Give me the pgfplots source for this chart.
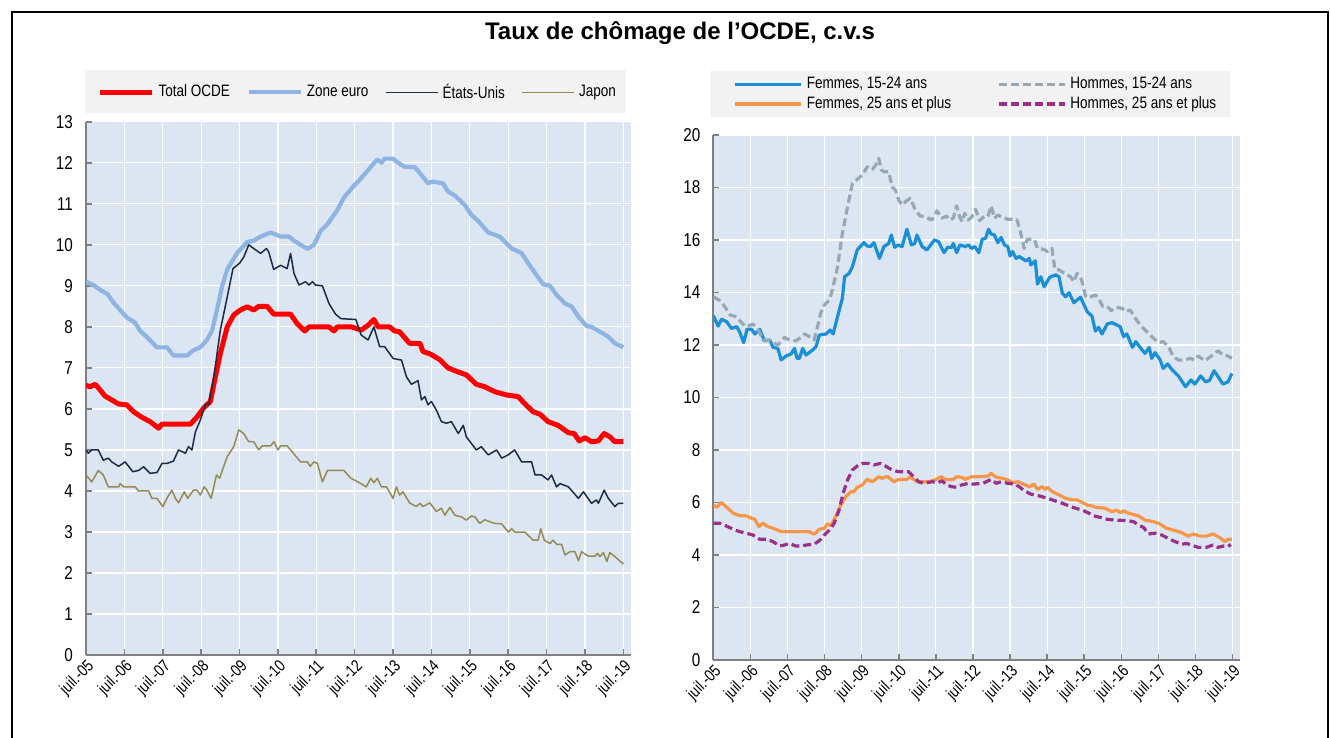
\documentclass[border=0pt]{standalone}
\usepackage{fontspec}
\setmainfont{Liberation Sans}
\newfontfamily\narrow[FakeStretch=0.82]{Liberation Sans}
\usepackage{pgfplots}
\pgfplotsset{compat=1.18}
\definecolor{bgblue}{HTML}{DCE6F2}
\definecolor{leggray}{HTML}{F2F2F2}
\definecolor{totred}{HTML}{FF0000}
\definecolor{zoneeuro}{HTML}{8DB4E2}
\definecolor{usnavy}{HTML}{1B2A47}
\definecolor{japon}{HTML}{948A54}
\definecolor{fjeune}{HTML}{1A8FD6}
\definecolor{hjeune}{HTML}{97A8B3}
\definecolor{fadulte}{HTML}{F79646}
\definecolor{hadulte}{HTML}{9A3089}
\definecolor{axgray}{HTML}{808080}
\pgfplotsset{
  commonax/.style={
    scale only axis,
    axis background/.style={fill=bgblue},
    grid=major, major grid style={white, line width=0.6pt},
    axis x line*=bottom, axis y line*=left,
    axis line style={axgray, line width=1pt, -},
    tick align=inside, major tick length=3pt,
    tick style={axgray, line width=0.8pt},
    xmin=2005.5, xmax=2019.7,
    xtick={2005.5,2006.5,2007.5,2008.5,2009.5,2010.5,2011.5,2012.5,2013.5,2014.5,2015.5,2016.5,2017.5,2018.5,2019.5},
    xticklabels={juil.-05,juil.-06,juil.-07,juil.-08,juil.-09,juil.-10,juil.-11,juil.-12,juil.-13,juil.-14,juil.-15,juil.-16,juil.-17,juil.-18,juil.-19},
    xticklabel style={rotate=45, anchor=north east, inner sep=1pt, font=\narrow\fontsize{8.3}{9}\selectfont},
    yticklabel style={font=\narrow\fontsize{9.3}{10}\selectfont, xshift=-3pt},
    /pgf/number format/assume math mode=true,
    ymin=0,
    line join=round,
    legend cell align=left,
  }
}
\begin{document}
\begin{tikzpicture}
\fill[white] (0pt,0pt) rectangle (665pt,-369pt);
\draw[black, line width=1pt] (6pt,-372pt) -- (6pt,-6pt) -- (664pt,-6pt) -- (664pt,-372pt);
\node[font=\bfseries\fontsize{12}{13}\selectfont] at (340pt,-16.5pt) {Taux de chômage de l’OCDE, c.v.s};
\fill[leggray] (42.7pt,-35pt) rectangle (313pt,-56.35pt);
\fill[leggray] (354.85pt,-35.35pt) rectangle (615pt,-58.35pt);

\begin{axis}[commonax,
  at={(43pt,-327.55pt)}, anchor=south west,
  width=272.5pt, height=266.7pt,
  ymax=13, ytick={0,1,2,3,4,5,6,7,8,9,10,11,12,13},
  legend style={at={(0.5004,1.055)}, anchor=center, draw=none, fill=none,
    font=\narrow\fontsize{8.25}{9}\selectfont,
    /tikz/every even column/.append style={column sep=6.3pt}},
  legend columns=4,
  legend image code/.code={\draw[#1] (0pt,0pt) -- (26pt,0pt);},
]
\addplot[totred, line width=2.5pt] coordinates {
(2005.5,6.58)(2005.6,6.54)(2005.74,6.6)(2005.87,6.46)(2006.0,6.31)(2006.17,6.22)(2006.35,6.12)(2006.56,6.1)(2006.74,5.93)(2006.95,5.8)(2007.17,5.69)(2007.39,5.53)(2007.48,5.63)(2008.22,5.63)(2008.39,5.8)(2008.57,6.03)(2008.74,6.18)(2008.87,6.78)(2009.0,7.35)(2009.18,8.0)(2009.35,8.29)(2009.52,8.41)(2009.7,8.49)(2009.87,8.41)(2010.0,8.5)(2010.22,8.5)(2010.39,8.31)(2010.83,8.31)(2011.0,8.08)(2011.2,7.9)(2011.31,8.0)(2011.83,8.0)(2011.96,7.9)(2012.05,8.0)(2012.41,8.0)(2012.67,7.92)(2012.85,8.04)(2013.0,8.18)(2013.11,8.0)(2013.41,8.0)(2013.54,7.9)(2013.67,7.88)(2013.93,7.6)(2014.2,7.6)(2014.28,7.4)(2014.46,7.34)(2014.54,7.3)(2014.72,7.2)(2014.93,7.0)(2015.2,6.9)(2015.41,6.83)(2015.67,6.6)(2015.89,6.54)(2016.15,6.42)(2016.46,6.34)(2016.76,6.3)(2016.93,6.13)(2017.15,5.93)(2017.33,5.87)(2017.54,5.69)(2017.8,5.6)(2018.07,5.42)(2018.22,5.4)(2018.35,5.22)(2018.5,5.3)(2018.67,5.2)(2018.85,5.22)(2019.0,5.4)(2019.15,5.32)(2019.28,5.2)(2019.5,5.2)
};
\addlegendentry{Total OCDE}
\addplot[zoneeuro, line width=2.1pt] coordinates {
(2005.5,9.1)(2005.69,9.02)(2005.87,8.9)(2006.06,8.8)(2006.21,8.6)(2006.56,8.23)(2006.78,8.1)(2006.91,7.9)(2007.09,7.75)(2007.35,7.5)(2007.61,7.5)(2007.78,7.3)(2008.13,7.3)(2008.3,7.43)(2008.48,7.5)(2008.65,7.68)(2008.78,7.9)(2008.91,8.4)(2009.05,9.0)(2009.18,9.4)(2009.44,9.8)(2009.7,10.07)(2009.87,10.1)(2010.05,10.2)(2010.31,10.3)(2010.57,10.2)(2010.79,10.2)(2010.92,10.1)(2011.09,10.0)(2011.27,9.9)(2011.44,10.0)(2011.62,10.35)(2011.79,10.5)(2012.05,10.85)(2012.22,11.15)(2012.49,11.45)(2012.59,11.54)(2012.85,11.82)(2013.09,12.08)(2013.2,12.0)(2013.28,12.1)(2013.5,12.1)(2013.63,12.0)(2013.8,11.9)(2014.07,11.89)(2014.24,11.7)(2014.41,11.5)(2014.54,11.54)(2014.8,11.5)(2014.93,11.3)(2015.11,11.2)(2015.37,10.97)(2015.54,10.73)(2015.72,10.58)(2015.98,10.3)(2016.28,10.2)(2016.59,9.91)(2016.85,9.8)(2017.02,9.55)(2017.24,9.26)(2017.41,9.04)(2017.59,9.0)(2017.76,8.78)(2017.98,8.57)(2018.15,8.5)(2018.33,8.25)(2018.54,8.02)(2018.67,8.0)(2018.89,7.88)(2019.11,7.76)(2019.28,7.6)(2019.5,7.5)
};
\addlegendentry{Zone euro}
\addplot[usnavy, line width=0.75pt] coordinates {
(2005.5,5.0)(2005.56,4.92)(2005.65,5.0)(2005.82,5.0)(2005.95,4.75)(2006.08,4.8)(2006.17,4.71)(2006.35,4.6)(2006.52,4.71)(2006.72,4.47)(2006.87,4.5)(2007.0,4.59)(2007.17,4.43)(2007.35,4.45)(2007.48,4.67)(2007.61,4.67)(2007.78,4.73)(2007.91,5.0)(2008.09,4.92)(2008.17,5.08)(2008.26,5.0)(2008.35,5.44)(2008.48,5.73)(2008.61,6.11)(2008.7,6.12)(2008.83,6.78)(2009.0,7.92)(2009.18,8.73)(2009.33,9.42)(2009.5,9.55)(2009.61,9.7)(2009.74,10.0)(2009.87,9.91)(2010.05,9.79)(2010.2,9.91)(2010.26,9.83)(2010.39,9.4)(2010.57,9.5)(2010.74,9.42)(2010.83,9.79)(2010.92,9.3)(2011.05,9.02)(2011.22,9.1)(2011.31,9.02)(2011.4,9.1)(2011.48,9.02)(2011.66,9.0)(2011.83,8.57)(2012.0,8.31)(2012.14,8.2)(2012.53,8.18)(2012.67,7.8)(2012.85,7.68)(2013.0,8.0)(2013.15,7.52)(2013.28,7.52)(2013.5,7.23)(2013.72,7.19)(2013.85,6.78)(2013.98,6.6)(2014.15,6.69)(2014.24,6.22)(2014.33,6.3)(2014.41,6.1)(2014.5,6.18)(2014.63,5.97)(2014.76,5.69)(2014.89,5.65)(2015.02,5.69)(2015.2,5.4)(2015.33,5.6)(2015.41,5.32)(2015.67,5.0)(2015.8,5.08)(2015.98,4.88)(2016.2,5.0)(2016.33,4.8)(2016.5,4.88)(2016.67,5.0)(2016.85,4.71)(2017.11,4.71)(2017.2,4.39)(2017.37,4.39)(2017.54,4.27)(2017.63,4.39)(2017.76,4.1)(2017.85,4.18)(2018.07,4.1)(2018.33,3.82)(2018.46,3.98)(2018.67,3.7)(2018.8,3.78)(2018.85,3.7)(2019.0,4.02)(2019.11,3.82)(2019.28,3.62)(2019.37,3.7)(2019.5,3.7)
};
\addlegendentry{États-Unis}
\addplot[japon, line width=0.75pt] coordinates {
(2005.5,4.39)(2005.65,4.22)(2005.82,4.5)(2005.95,4.39)(2006.08,4.1)(2006.35,4.1)(2006.39,4.18)(2006.48,4.1)(2006.78,4.1)(2006.87,4.0)(2007.13,4.0)(2007.22,3.82)(2007.35,3.82)(2007.5,3.62)(2007.63,3.86)(2007.74,4.02)(2007.83,3.82)(2007.91,3.71)(2008.06,3.98)(2008.15,3.82)(2008.3,4.02)(2008.39,4.02)(2008.48,3.9)(2008.58,4.1)(2008.65,4.02)(2008.76,3.82)(2008.9,4.39)(2008.98,4.31)(2009.18,4.84)(2009.35,5.08)(2009.48,5.49)(2009.61,5.4)(2009.74,5.2)(2009.87,5.2)(2010.0,5.0)(2010.09,5.1)(2010.31,5.1)(2010.4,5.2)(2010.5,5.0)(2010.57,5.1)(2010.74,5.1)(2011.09,4.71)(2011.27,4.71)(2011.34,4.6)(2011.44,4.71)(2011.53,4.67)(2011.66,4.22)(2011.79,4.5)(2012.22,4.5)(2012.4,4.31)(2012.63,4.2)(2012.8,4.1)(2012.92,4.31)(2013.0,4.2)(2013.09,4.31)(2013.2,4.1)(2013.33,4.1)(2013.5,3.82)(2013.59,4.1)(2013.67,3.9)(2013.76,3.98)(2013.93,3.71)(2014.11,3.62)(2014.2,3.7)(2014.28,3.62)(2014.46,3.71)(2014.63,3.5)(2014.76,3.58)(2014.85,3.41)(2014.98,3.6)(2015.11,3.41)(2015.28,3.37)(2015.41,3.29)(2015.54,3.39)(2015.63,3.37)(2015.76,3.21)(2015.89,3.3)(2016.02,3.25)(2016.15,3.21)(2016.33,3.2)(2016.5,3.0)(2016.59,3.08)(2016.67,3.0)(2016.93,3.0)(2017.15,2.8)(2017.28,2.8)(2017.35,3.08)(2017.44,2.8)(2017.59,2.72)(2017.67,2.8)(2017.76,2.7)(2017.89,2.7)(2017.98,2.44)(2018.11,2.52)(2018.24,2.52)(2018.33,2.3)(2018.41,2.52)(2018.59,2.41)(2018.76,2.41)(2018.83,2.48)(2018.89,2.4)(2018.98,2.5)(2019.07,2.28)(2019.15,2.5)(2019.28,2.4)(2019.5,2.22)
};
\addlegendentry{Japon}
\end{axis}

\begin{axis}[commonax,
  at={(356.65pt,-330pt)}, anchor=south west,
  width=263.35pt, height=262.5pt,
  ymax=20, ytick={0,2,4,6,8,10,12,14,16,18,20},
  legend style={at={(0.5005,1.0777)}, anchor=center, draw=none, fill=none,
    font=\narrow\fontsize{8.25}{9}\selectfont, row sep=-1.5pt,
    /tikz/every even column/.append style={column sep=21pt}},
  legend columns=2,
  legend image code/.code={\draw[#1] (0pt,0pt) -- (33pt,0pt);},
]
\addplot[fjeune, line width=1.6pt] coordinates {
(2005.5,13.12)(2005.63,12.72)(2005.72,12.98)(2005.86,12.89)(2005.99,12.63)(2006.13,12.7)(2006.21,12.5)(2006.32,12.09)(2006.41,12.6)(2006.53,12.6)(2006.62,12.42)(2006.75,12.6)(2006.88,12.16)(2007.02,12.19)(2007.11,11.91)(2007.24,11.87)(2007.33,11.43)(2007.46,11.58)(2007.6,11.66)(2007.69,11.87)(2007.76,11.49)(2007.82,11.49)(2007.91,11.87)(2008.0,11.62)(2008.18,11.81)(2008.27,11.94)(2008.36,12.38)(2008.54,12.42)(2008.65,12.57)(2008.73,12.42)(2008.85,13.08)(2008.98,13.78)(2009.04,14.6)(2009.16,14.73)(2009.25,14.98)(2009.38,15.62)(2009.56,15.9)(2009.65,15.77)(2009.74,15.75)(2009.83,15.9)(2009.98,15.3)(2010.1,15.75)(2010.23,15.87)(2010.3,16.19)(2010.39,15.72)(2010.48,15.81)(2010.59,15.75)(2010.72,16.41)(2010.84,15.81)(2010.93,15.87)(2010.99,16.19)(2011.13,15.75)(2011.26,15.62)(2011.46,16.0)(2011.57,15.94)(2011.72,15.52)(2011.82,15.72)(2011.93,15.72)(2011.97,15.87)(2012.06,15.52)(2012.15,15.81)(2012.29,15.75)(2012.38,15.81)(2012.46,15.68)(2012.55,15.75)(2012.66,15.52)(2012.75,16.03)(2012.84,16.06)(2012.92,16.41)(2012.99,16.23)(2013.08,16.19)(2013.17,15.9)(2013.26,16.1)(2013.35,15.81)(2013.44,15.75)(2013.5,15.39)(2013.57,15.56)(2013.66,15.3)(2013.75,15.37)(2013.93,15.2)(2014.02,15.3)(2014.06,15.05)(2014.18,15.21)(2014.24,14.32)(2014.33,14.6)(2014.42,14.22)(2014.57,14.58)(2014.73,14.67)(2014.82,14.6)(2014.91,13.97)(2015.0,13.84)(2015.09,13.99)(2015.22,13.61)(2015.4,13.82)(2015.58,13.27)(2015.71,13.1)(2015.8,12.53)(2015.89,12.67)(2015.98,12.42)(2016.12,12.8)(2016.25,12.85)(2016.38,12.76)(2016.47,12.7)(2016.56,12.32)(2016.65,12.42)(2016.8,11.91)(2016.89,12.13)(2017.05,11.83)(2017.14,11.68)(2017.25,11.91)(2017.32,11.49)(2017.41,11.71)(2017.54,11.45)(2017.63,11.11)(2017.75,11.28)(2017.86,11.07)(2018.04,10.82)(2018.23,10.41)(2018.38,10.67)(2018.48,10.51)(2018.64,10.82)(2018.77,10.6)(2018.88,10.65)(2019.0,11.02)(2019.11,10.79)(2019.24,10.51)(2019.38,10.6)(2019.48,10.92)
};
\addlegendentry{Femmes, 15-24 ans}
\addplot[hjeune, line width=1.6pt, dash pattern=on 4pt off 2pt] coordinates {
(2005.5,13.84)(2005.68,13.69)(2005.81,13.46)(2005.95,13.14)(2006.13,13.08)(2006.26,12.85)(2006.39,12.7)(2006.57,12.8)(2006.71,12.57)(2006.84,12.19)(2007.02,12.16)(2007.24,12.0)(2007.42,12.29)(2007.55,12.19)(2007.73,12.16)(2007.82,12.25)(2007.96,12.42)(2008.09,12.32)(2008.22,12.19)(2008.31,12.7)(2008.4,13.23)(2008.49,13.52)(2008.63,13.71)(2008.71,14.1)(2008.85,14.98)(2008.98,16.25)(2009.12,17.27)(2009.25,18.16)(2009.38,18.31)(2009.52,18.48)(2009.65,18.79)(2009.79,18.69)(2009.88,18.86)(2009.96,19.11)(2010.03,18.67)(2010.1,18.6)(2010.23,18.6)(2010.32,18.03)(2010.41,17.9)(2010.5,17.52)(2010.59,17.33)(2010.68,17.46)(2010.81,17.59)(2010.95,17.14)(2011.08,16.91)(2011.21,16.89)(2011.39,16.76)(2011.53,17.11)(2011.66,16.83)(2011.79,16.91)(2011.88,16.76)(2011.97,16.83)(2012.06,17.3)(2012.14,16.9)(2012.21,16.7)(2012.28,17.02)(2012.37,16.76)(2012.46,16.86)(2012.57,17.17)(2012.68,16.74)(2012.81,16.91)(2012.9,16.89)(2012.99,17.3)(2013.08,16.83)(2013.17,16.95)(2013.3,16.86)(2013.44,16.79)(2013.68,16.79)(2013.77,16.38)(2013.88,15.68)(2013.97,16.03)(2014.15,16.03)(2014.24,15.68)(2014.42,15.64)(2014.51,15.56)(2014.63,15.68)(2014.71,14.88)(2014.82,14.86)(2015.0,14.7)(2015.13,14.6)(2015.22,14.41)(2015.31,14.73)(2015.43,14.48)(2015.54,13.84)(2015.67,13.84)(2015.8,13.9)(2015.89,13.78)(2016.0,13.46)(2016.12,13.46)(2016.23,13.31)(2016.34,13.43)(2016.52,13.4)(2016.61,13.27)(2016.74,13.33)(2016.88,13.02)(2017.01,12.76)(2017.14,12.57)(2017.32,12.32)(2017.5,12.09)(2017.63,12.13)(2017.77,11.94)(2017.9,11.56)(2018.04,11.43)(2018.21,11.43)(2018.35,11.49)(2018.48,11.43)(2018.57,11.58)(2018.75,11.4)(2018.93,11.58)(2019.11,11.78)(2019.24,11.62)(2019.38,11.58)(2019.48,11.49)
};
\addlegendentry{Hommes, 15-24 ans}
\addplot[fadulte, line width=1.6pt] coordinates {
(2005.5,5.9)(2005.59,5.82)(2005.72,6.0)(2005.86,5.82)(2006.04,5.59)(2006.21,5.5)(2006.39,5.49)(2006.53,5.4)(2006.62,5.36)(2006.73,5.08)(2006.84,5.21)(2006.97,5.08)(2007.11,5.02)(2007.33,4.89)(2008.09,4.89)(2008.22,4.79)(2008.36,4.98)(2008.49,5.02)(2008.58,5.18)(2008.67,5.12)(2008.8,5.46)(2008.94,5.9)(2009.07,6.22)(2009.21,6.41)(2009.29,6.41)(2009.38,6.58)(2009.52,6.67)(2009.65,6.88)(2009.79,6.79)(2009.96,6.98)(2010.05,6.92)(2010.19,7.0)(2010.37,6.79)(2010.5,6.88)(2010.72,6.88)(2010.81,6.98)(2010.99,6.79)(2011.3,6.79)(2011.48,6.86)(2011.64,6.98)(2011.75,6.88)(2011.97,6.88)(2012.06,6.98)(2012.2,6.96)(2012.29,6.88)(2012.46,6.98)(2012.63,6.98)(2012.9,7.0)(2012.99,7.11)(2013.13,6.96)(2013.3,6.92)(2013.44,6.86)(2013.57,6.76)(2013.73,6.79)(2013.88,6.69)(2014.02,6.6)(2014.15,6.7)(2014.24,6.5)(2014.36,6.6)(2014.45,6.5)(2014.51,6.58)(2014.64,6.41)(2014.82,6.29)(2015.0,6.16)(2015.18,6.1)(2015.31,6.1)(2015.45,6.0)(2015.58,5.9)(2015.71,5.87)(2015.8,5.82)(2016.07,5.78)(2016.25,5.65)(2016.38,5.71)(2016.47,5.61)(2016.56,5.68)(2016.7,5.59)(2016.96,5.49)(2017.14,5.33)(2017.37,5.27)(2017.5,5.21)(2017.72,5.02)(2017.95,4.93)(2018.13,4.85)(2018.3,4.72)(2018.44,4.8)(2018.62,4.72)(2018.79,4.72)(2018.97,4.8)(2019.15,4.67)(2019.29,4.51)(2019.38,4.6)(2019.48,4.6)
};
\addlegendentry{Femmes, 25 ans et plus}
\addplot[hadulte, line width=1.6pt, dash pattern=on 4pt off 2pt] coordinates {
(2005.5,5.21)(2005.68,5.21)(2005.86,5.1)(2006.04,4.98)(2006.21,4.89)(2006.39,4.83)(2006.57,4.76)(2006.75,4.6)(2006.93,4.6)(2007.11,4.51)(2007.29,4.34)(2007.42,4.38)(2007.55,4.44)(2007.73,4.34)(2007.87,4.34)(2008.0,4.38)(2008.22,4.41)(2008.36,4.55)(2008.49,4.76)(2008.63,4.95)(2008.76,5.21)(2008.89,5.71)(2009.0,6.35)(2009.12,6.86)(2009.25,7.24)(2009.38,7.39)(2009.52,7.49)(2009.7,7.49)(2009.83,7.43)(2010.01,7.49)(2010.14,7.39)(2010.32,7.24)(2010.5,7.17)(2010.77,7.17)(2010.9,6.98)(2011.04,6.79)(2011.17,6.73)(2011.39,6.79)(2011.57,6.76)(2011.66,6.83)(2011.79,6.67)(2011.93,6.6)(2012.06,6.58)(2012.2,6.67)(2012.38,6.73)(2012.5,6.7)(2012.77,6.73)(2012.99,6.88)(2013.13,6.73)(2013.26,6.79)(2013.44,6.73)(2013.62,6.7)(2013.75,6.6)(2013.88,6.45)(2014.06,6.32)(2014.29,6.25)(2014.51,6.16)(2014.64,6.1)(2014.78,6.03)(2014.91,5.97)(2015.09,5.87)(2015.27,5.78)(2015.45,5.71)(2015.63,5.59)(2015.76,5.49)(2015.94,5.43)(2016.12,5.36)(2016.34,5.33)(2016.65,5.31)(2016.83,5.27)(2016.96,5.14)(2017.1,5.05)(2017.23,4.8)(2017.41,4.83)(2017.59,4.76)(2017.77,4.63)(2017.95,4.51)(2018.13,4.41)(2018.26,4.44)(2018.39,4.38)(2018.57,4.29)(2018.79,4.29)(2018.97,4.38)(2019.11,4.29)(2019.24,4.34)(2019.38,4.32)(2019.45,4.41)
};
\addlegendentry{Hommes, 25 ans et plus}
\end{axis}
\pgfresetboundingbox
\useasboundingbox (0pt,0pt) rectangle (665pt,-369pt);
\end{tikzpicture}
\end{document}
